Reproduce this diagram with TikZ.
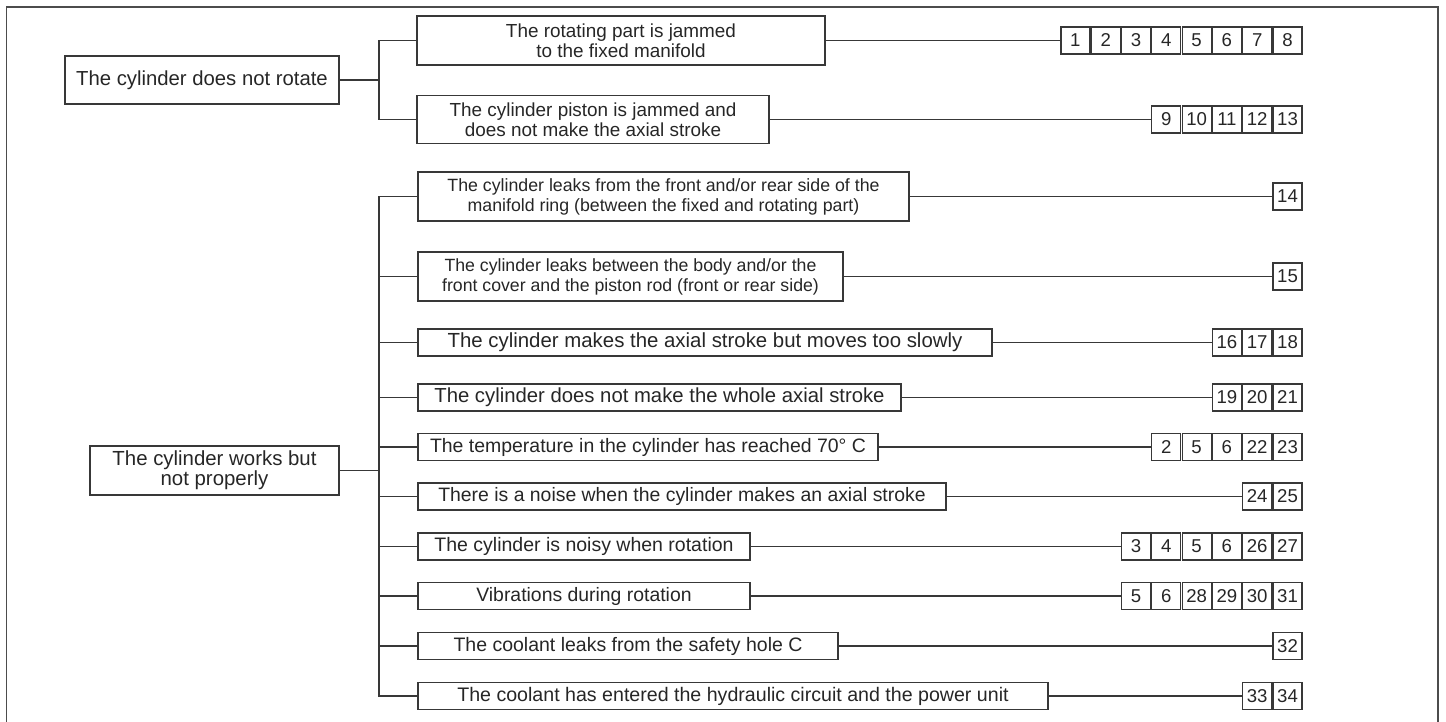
\documentclass[tikz,border=0pt]{standalone}
\usepackage{fontspec}
\setmainfont{Liberation Sans}
\newcommand\numrow[4]{%
  \foreach \t [count=\i] in {#4} {\node[nbox] (#1-\i) at ({1287.5-(#3-\i)*30.3}, #2) {\t};}}
\begin{document}
\begin{tikzpicture}[x=1pt,y=-1pt, line width=1.2pt, draw=black!78,
  every node/.style={text=black!85},
  box/.style={draw=black!78, line width=1.2pt, inner sep=0pt, align=center, anchor=center},
  fsz/.style={box, font=\fontsize{#1}{20}\selectfont},
  nbox/.style={draw=black!78, line width=1.2pt, minimum width=29pt, minimum height=27pt, inner sep=0pt, font=\fontsize{18.6}{18}\selectfont},
  link/.style={draw=black!78, line width=1.2pt},
  frame/.style={draw=black!70, line width=1.5pt}]
\useasboundingbox (0,0) rectangle (1446,722);
\draw[frame] (6.5,722) -- (6.5,7) -- (1438,7) -- (1438,722);

% level one
\node[fsz=20.3, minimum width=274pt, minimum height=48pt] (A) at (202,80) {The cylinder does not rotate};
\node[fsz=20.4, minimum width=249pt, minimum height=49pt] (C) at (214.5,470.5) {The cylinder works but\\not properly};

% first group
\node[fsz=18.9, minimum width=408pt, minimum height=49pt] (B1) at (621,40.5) {The rotating part is jammed\\to the fixed manifold};
\node[fsz=18.9, minimum width=352pt, minimum height=48pt] (B2) at (593,119.5) {The cylinder piston is jammed and\\does not make the axial stroke};

% second group
\node[fsz=17.75, minimum width=491pt, minimum height=49pt] (D1) at (663.5,196.5) {The cylinder leaks from the front and/or rear side of the\\manifold ring (between the fixed and rotating part)};
\node[fsz=17.7, minimum width=425pt, minimum height=49pt] (D2) at (630.5,276.5) {The cylinder leaks between the body and/or the\\front cover and the piston rod (front or rear side)};
\node[fsz=20.4, minimum width=574pt, minimum height=27pt] (D3) at (705,342.5) {The cylinder makes the axial stroke but moves too slowly};
\node[fsz=20.3, minimum width=483pt, minimum height=27pt] (D4) at (659.5,397.5) {The cylinder does not make the whole axial stroke};
\node[fsz=19.45, minimum width=460pt, minimum height=27pt] (D5) at (648,447) {The temperature in the cylinder has reached 70° C};
\node[fsz=19.4, minimum width=528pt, minimum height=27pt] (D6) at (682,496.5) {There is a noise when the cylinder makes an axial stroke};
\node[fsz=19.5, minimum width=332pt, minimum height=27pt] (D7) at (584,546.5) {The cylinder is noisy when rotation};
\node[fsz=19.4, minimum width=332pt, minimum height=27pt] (D8) at (584,596) {Vibrations during rotation};
\node[fsz=19.5, minimum width=420pt, minimum height=27pt] (D9) at (628,646) {The coolant leaks from the safety hole C};
\node[fsz=19.6, minimum width=630pt, minimum height=27pt] (D10) at (733,696) {The coolant has entered the hydraulic circuit and the power unit};

% number rows
\numrow{rB1}{40.5}{8}{1,2,3,4,5,6,7,8}
\numrow{rB2}{119.5}{5}{9,10,11,12,13}
\numrow{rD1}{196.5}{1}{14}
\numrow{rD2}{276.5}{1}{15}
\numrow{rD3}{342.5}{3}{16,17,18}
\numrow{rD4}{397.5}{3}{19,20,21}
\numrow{rD5}{447}{5}{2,5,6,22,23}
\numrow{rD6}{496.5}{2}{24,25}
\numrow{rD7}{546.5}{6}{3,4,5,6,26,27}
\numrow{rD8}{596}{6}{5,6,28,29,30,31}
\numrow{rD9}{646}{1}{32}
\numrow{rD10}{696}{2}{33,34}

% trunk junctions
\coordinate (j1) at (379,80);
\coordinate (j2) at (379,470.5);

% first tree
\draw[link] (A.east) -- (j1);
\draw[link] (B1.west) -- (B1.west -| j1) -- (B2.west -| j1) -- (B2.west);

% second tree
\draw[link] (C.east) -- (j2);
\draw[link] (D1.west) -- (D1.west -| j2) -- (D10.west -| j2) -- (D10.west);
\foreach \d in {D2,D3,D4,D5,D6,D7,D8,D9} {\draw[link] (\d.west) -- (\d.west -| j2);}

% connectors to number rows
\foreach \d in {B1,B2,D1,D2,D3,D4,D5,D6,D7,D8,D9,D10} {\draw[link] (\d.east) -- (r\d-1.west);}
\end{tikzpicture}
\end{document}
